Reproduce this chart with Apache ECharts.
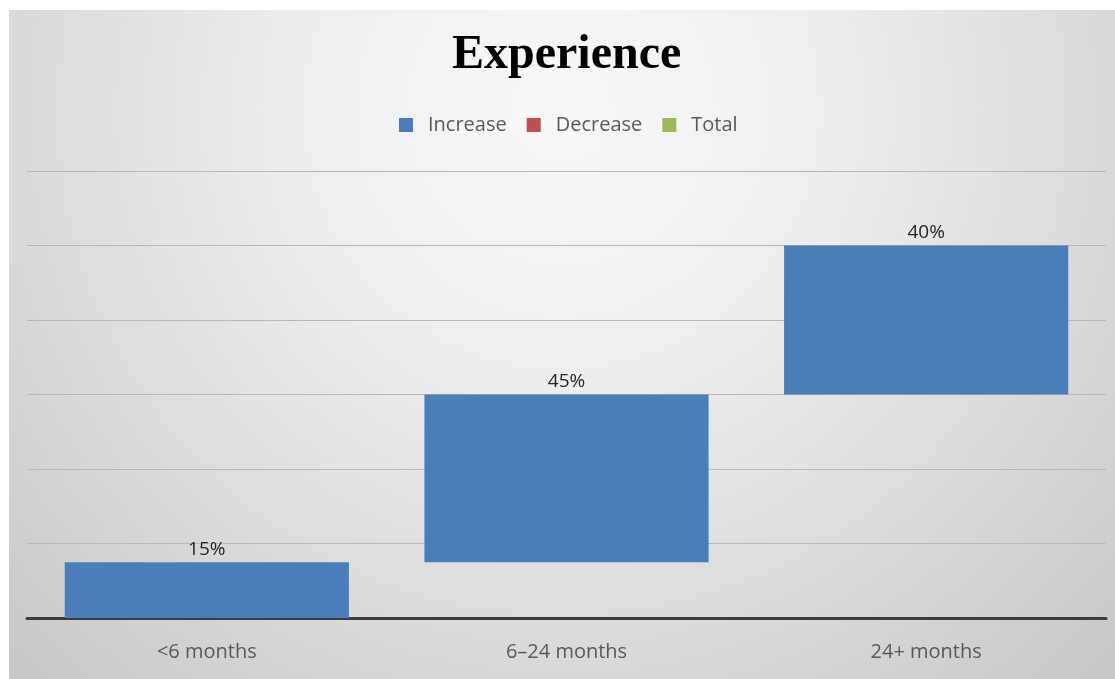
<!DOCTYPE html>
<html>
<head>
<meta charset="utf-8">
<script src="https://cdn.jsdelivr.net/npm/echarts@6/dist/echarts.min.js"></script>
<style>
html,body{margin:0;padding:0;background:#ffffff;}
#chart{position:absolute;left:9px;top:10px;width:1106px;height:669px;}
</style>
</head>
<body>
<div id="chart"></div>
<script>
var categories = ['<6 months', '6\u201324 months', '24+ months'];
var baseValues = [0, 15, 60];
var increaseValues = [15, 45, 40];
var decreaseValues = ['-', '-', '-'];
var totalValues = ['-', '-', '-'];
var yTicks = [0, 20, 40, 60, 80, 100, 120];

var chart = echarts.init(document.getElementById('chart'));
var font = '"Open Sans", "Noto Sans", sans-serif';
chart.setOption({
  animation: false,
  backgroundColor: {
    type: 'radial', x: 0.5, y: 0.15, r: 1.25,
    colorStops: [
      {offset: 0, color: '#f8f8f8'},
      {offset: 0.35, color: '#ececec'},
      {offset: 1, color: '#c4c4c4'}
    ]
  },
  title: {
    text: 'Experience',
    left: 438,
    top: 17,
    textStyle: {fontFamily: '"Liberation Serif", "Times New Roman", serif', fontWeight: 'bold', fontSize: 48, color: '#000000'}
  },
  legend: {
    data: ['Increase', 'Decrease', 'Total'],
    left: 385,
    top: 100,
    icon: 'rect',
    itemWidth: 14,
    itemHeight: 14,
    itemGap: 20,
    textStyle: {fontFamily: font, fontSize: 20, color: '#595959', padding: [0, 0, 0, 10]}
  },
  grid: {left: 18, right: 9, top: 161, bottom: 61, containLabel: false},
  xAxis: {
    type: 'category',
    data: categories,
    axisLine: {lineStyle: {color: '#3c3c3c', width: 3}},
    axisTick: {show: false},
    axisLabel: {fontFamily: font, fontSize: 20, color: '#595959', margin: 24}
  },
  yAxis: {
    type: 'value',
    min: yTicks[0],
    max: yTicks[yTicks.length - 1],
    interval: yTicks[1] - yTicks[0],
    axisLabel: {show: false},
    axisLine: {show: false},
    axisTick: {show: false},
    splitLine: {lineStyle: {color: '#b8b8b8', width: 1}}
  },
  series: [
    {
      name: 'base', type: 'bar', stack: 'w', data: baseValues,
      itemStyle: {color: 'transparent'}, silent: true,
      barCategoryGap: '21%'
    },
    {
      name: 'Increase', type: 'bar', stack: 'w', data: increaseValues,
      itemStyle: {color: '#4a7ebb'},
      barCategoryGap: '21%',
      label: {show: true, position: 'top', formatter: '{c}%', fontFamily: font, fontSize: 19, color: '#262626', distance: 3}
    },
    {
      name: 'Decrease', type: 'bar', stack: 'w', data: decreaseValues,
      itemStyle: {color: '#c0504d'}
    },
    {
      name: 'Total', type: 'bar', stack: 'w', data: totalValues,
      itemStyle: {color: '#9bbb59'}
    }
  ]
});
</script>
</body>
</html>
